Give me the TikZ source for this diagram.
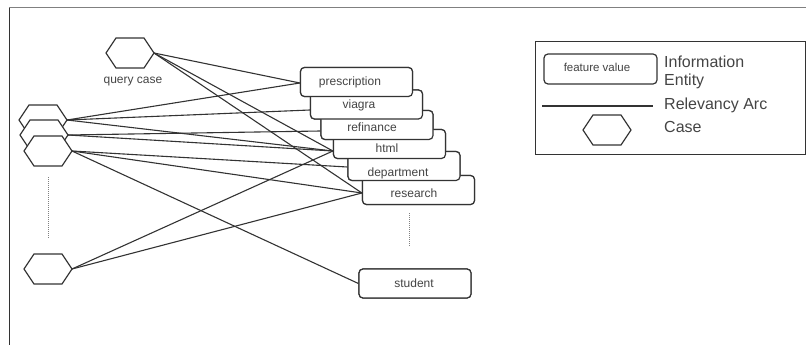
\documentclass[tikz,border=0pt]{standalone}
\usepackage{fontspec}
\setmainfont{Liberation Sans}
\usetikzlibrary{calc}
\definecolor{ink}{HTML}{333333}
\definecolor{txt}{HTML}{444444}
\newcommand\hexcase[3]{%
  \draw[hexline,shift={(#2,#3)}] (-24,0) -- (-14,-15) -- (14,-15) -- (24,0) -- (14,15) -- (-14,15) -- cycle;
  \coordinate (#1) at (#2+24,#3);}
\begin{document}
\begin{tikzpicture}[x=1pt,y=-1pt,
  arc/.style={draw=ink,line width=1.1pt},
  ibox/.style={draw=ink,line width=1.2pt,fill=white,rounded corners=4pt,minimum width=112pt,minimum height=29pt,inner sep=0pt},
  hexline/.style={draw=ink,line width=1.2pt,fill=white,line join=miter},
  lbl/.style={text=txt,font=\fontsize{12}{14}\selectfont,anchor=base,inner sep=0pt},
  leg/.style={text=txt,font=\fontsize{16}{18}\selectfont,anchor=base west,inner sep=0pt},
  dots/.style={draw=gray,line width=0.8pt,dash pattern=on 1pt off 1pt}]
\useasboundingbox (0,0) rectangle (806,345);
% frame
\draw[gray,line width=1pt] (9,8) -- (806,8);
\draw[ink,line width=1pt] (9,8) -- (9,345);

% boxes (positions only, drawn later)
\path
  (418.5,190) node[ibox] (research) {}
  (404,166) node[ibox] (department) {}
  (389.5,144) node[ibox] (html) {}
  (377,125) node[ibox] (refinance) {}
  (366.5,104.5) node[ibox] (viagra) {}
  (356.5,82) node[ibox] (prescription) {}
  (415,283.5) node[ibox] (student) {};

% case anchor points
\coordinate (Q) at (154,53);
\coordinate (H1) at (67,120);
\coordinate (H2) at (68,135);
\coordinate (H3) at (72,151);
\coordinate (H4) at (72,269);

% relevancy arcs
\draw[arc] (Q) -- ([yshift=-1pt]prescription.west);
\draw[arc] (Q) -- ([yshift=-7pt]html.west);
\draw[arc] (Q) -- ([yshift=-3pt]research.west);
\draw[arc] (H1) -- ([yshift=-1pt]prescription.west);
\draw[arc] (H1) -- ([yshift=-5.5pt]viagra.west);
\draw[arc] (H1) -- ([yshift=-7pt]html.west);
\draw[arc] (H2) -- ([yshift=-6pt]refinance.west);
\draw[arc] (H2) -- ([yshift=-7pt]html.west);
\draw[arc] (H3) -- ([yshift=-1pt]department.west);
\draw[arc] (H3) -- ([yshift=-3pt]research.west);
\draw[arc] (H3) -- (student.west);
\draw[arc] (H4) -- ([yshift=-7pt]html.west);
\draw[arc] (H4) -- ([yshift=-3pt]research.west);

% hexagons
\hexcase{Q}{130}{53}
\hexcase{H1}{43}{120}
\hexcase{H2}{44}{135}
\hexcase{H3}{48}{151}
\hexcase{H4}{48}{269}
\node[lbl] (qlabel) at (133,84) {query case};

% boxes drawn, bottom of stack first
\node[ibox] at (research) {};
\node[ibox] at (department) {};
\node[ibox] at (html) {};
\node[ibox] at (refinance) {};
\node[ibox] at (viagra) {};
\node[ibox] at (prescription) {};
\node[ibox] at (student) {};
\node[lbl] (tpre) at (350,85.5) {prescription};
\node[lbl] (tvia) at (359,108) {viagra};
\node[lbl] (tref) at (372,131.5) {refinance};
\node[lbl] (thtm) at (387,152) {html};
\node[lbl] (tdep) at (398,176) {department};
\node[lbl] (tres) at (414,197) {research};
\node[lbl] (tstu) at (414,287) {student};

% dotted continuation marks
\coordinate (d1a) at (48,177); \coordinate (d1b) at (48,238);
\coordinate (d2a) at (409,213); \coordinate (d2b) at (409,247);
\draw[dots] (d1a) -- (d1b);
\draw[dots] (d2a) -- (d2b);

% legend
\draw[ink,line width=1pt] (535,42) rectangle (805,154);
\node[ibox,minimum width=113pt,minimum height=30pt] (fv) at (600.5,69) {};
\node[lbl,font=\fontsize{11.5}{13}\selectfont] (fvt) at (597,71) {feature value};
\node[leg] (l1) at (664,67) {Information};
\node[leg] (l2) at (664,85) {Entity};
\coordinate (la) at (542,106); \coordinate (lb) at (653,106);
\draw[arc] (la) -- (lb);
\node[leg] (l3) at (664,110) {Relevancy Arc};
\hexcase{LH}{607}{130}
\node[leg] (l4) at (664,132) {Case};
\end{tikzpicture}
\end{document}
